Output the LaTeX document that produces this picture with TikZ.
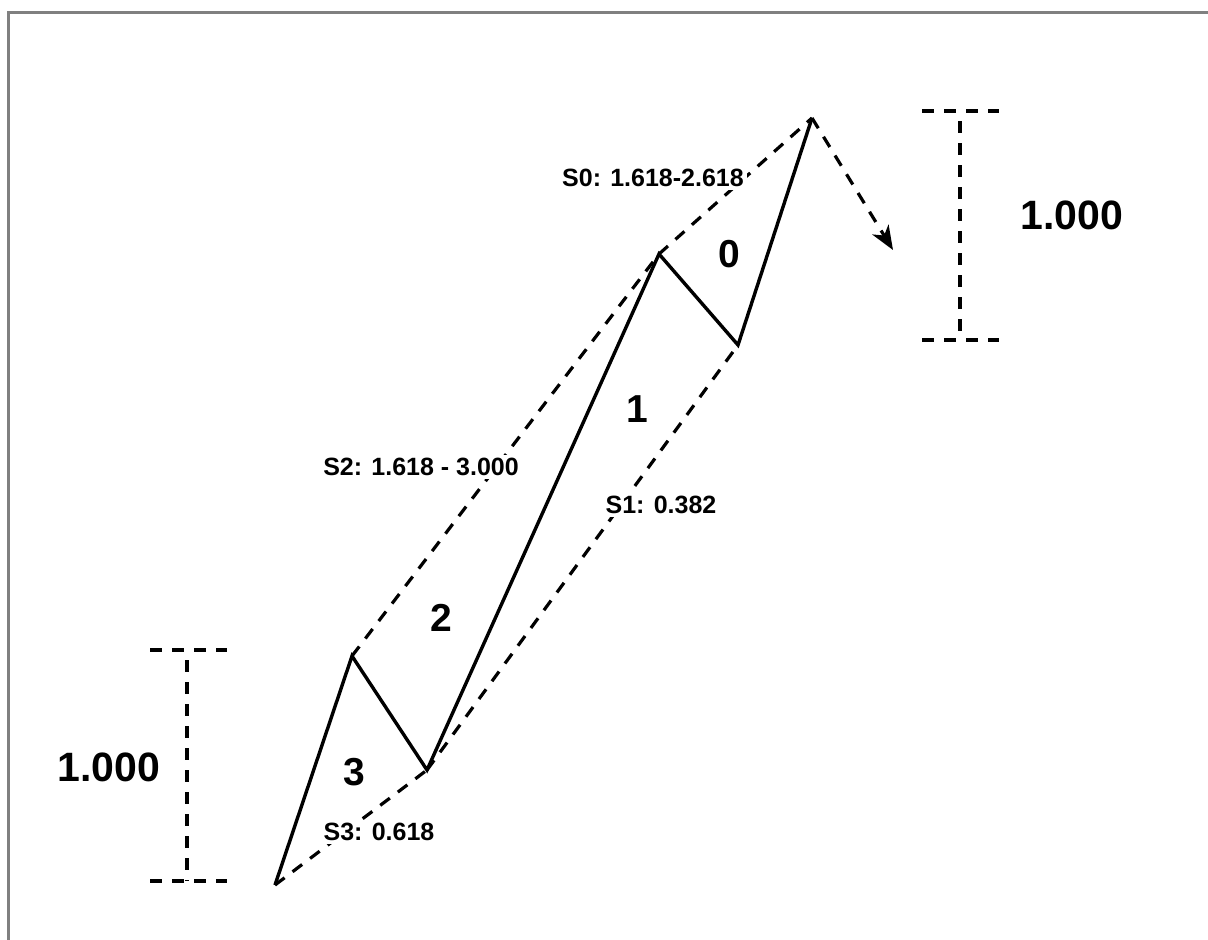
\documentclass[tikz,border=0pt]{standalone}
\usepackage{fontspec}
\setmainfont{Liberation Sans}
\usetikzlibrary{arrows.meta}
\begin{document}
\begin{tikzpicture}[x=1pt,y=-1pt,
  wave/.style={line width=3.4pt,line join=miter},
  guide/.style={line width=3.2pt,dash pattern=on 12pt off 10pt},
  lab/.style={font=\bfseries\fontsize{25}{25}\selectfont,fill=white,inner sep=3pt},
  num/.style={font=\bfseries\fontsize{39}{39}\selectfont,inner sep=0pt},
  big/.style={font=\bfseries\fontsize{41}{41}\selectfont,inner sep=0pt},
  frame/.style={line width=2.2pt,draw=black!50}]
\useasboundingbox (0,0) rectangle (1208,940);
\draw[frame] (8.5,940) -- (8.5,12.5) -- (1208,12.5);
% wave points
\coordinate (p0) at (275,885);
\coordinate (pa) at (352,656);
\coordinate (pb) at (427,770);
\coordinate (pc) at (659,254);
\coordinate (pd) at (738,345);
\coordinate (pe) at (812,118);
\coordinate (tip) at (893,250);
% guide lines
\draw[guide] (p0) -- (pb);
\draw[guide] (pb) -- (pd);
\draw[guide] (pa) -- (pc);
\draw[guide] (pc) -- (pe);
% projection arrow
\draw[guide,-{Stealth[length=24pt,width=19pt,inset=7pt]}] (pe) -- (tip);
% wave
\draw[wave] (p0) -- (pa) -- (pb) -- (pc) -- (pd) -- (pe);
% labels
\node[lab] (s0) at (653,178) {S0: 1.618-2.618};
\node[lab] (s1) at (661,505) {S1: 0.382};
\node[lab] (s2) at (421,467) {S2: 1.618 - 3.000};
\node[lab] (s3) at (379,832) {S3: 0.618};
\node[num] (n0) at (729,254) {0};
\node[num] (n1) at (637,409) {1};
\node[num] (n2) at (441,618) {2};
\node[num] (n3) at (354,772) {3};
% left bracket
\coordinate (lt1) at (150,650); \coordinate (lt2) at (227,650);
\coordinate (lb1) at (150,881); \coordinate (lb2) at (227,881);
\coordinate (lv1) at (187,650); \coordinate (lv2) at (187,881);
\draw[guide] (lt1) -- (lt2);
\draw[guide] (lb1) -- (lb2);
\draw[guide,dash phase=-10pt] (lv1) -- (lv2);
\node[big] (l1) at (109,767) {1.000};
% right bracket
\coordinate (rt1) at (922,111); \coordinate (rt2) at (999,111);
\coordinate (rb1) at (922,340); \coordinate (rb2) at (999,340);
\coordinate (rv1) at (960,111); \coordinate (rv2) at (960,340);
\draw[guide] (rt1) -- (rt2);
\draw[guide] (rb1) -- (rb2);
\draw[guide,dash phase=-10pt] (rv1) -- (rv2);
\node[big] (r1) at (1072,215) {1.000};
\end{tikzpicture}
\end{document}
